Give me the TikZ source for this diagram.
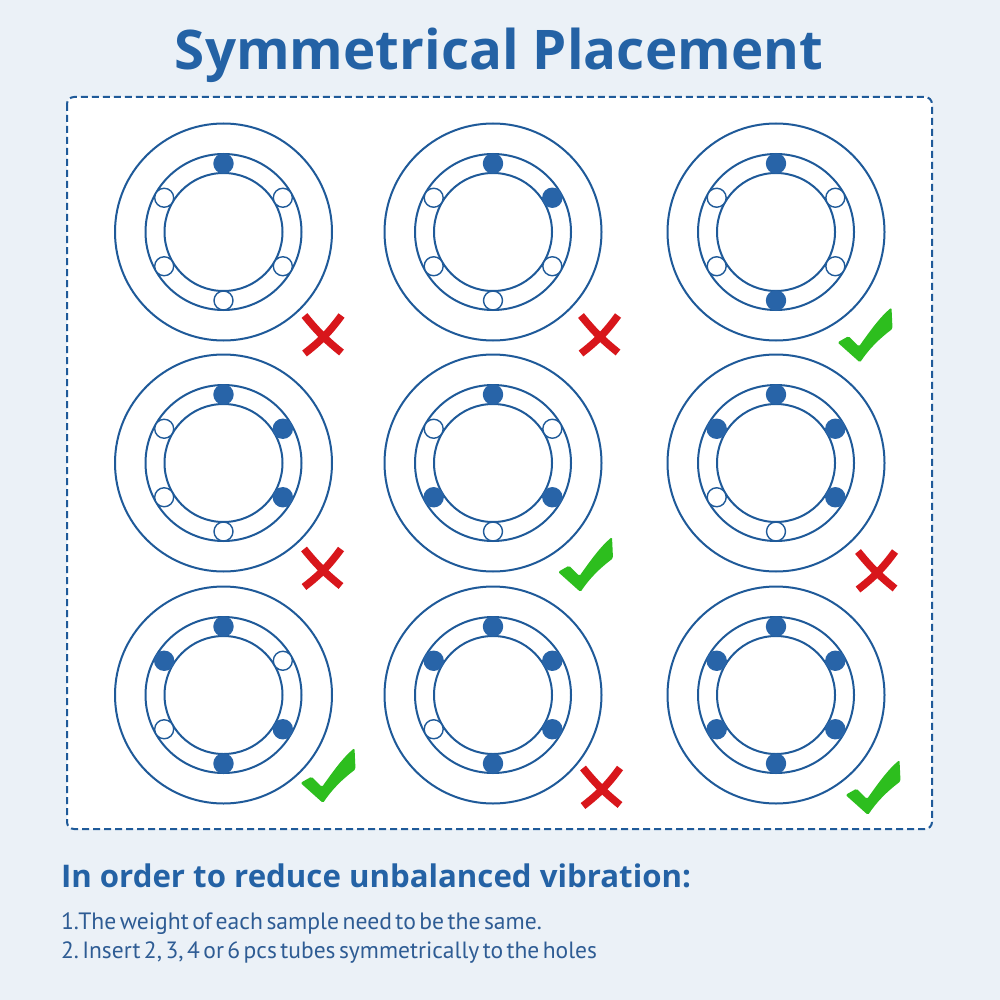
\documentclass[tikz,border=0pt]{standalone}
\usepackage{fontspec}
\usepackage{graphicx}
\setmainfont{Open Sans}
\newfontfamily\bodyfont{PT Sans}[WordSpace=0.55]
\frenchspacing
\usetikzlibrary{calc}
\definecolor{ring}{HTML}{1F5A99}
\definecolor{hole}{HTML}{2864A8}
\definecolor{titleblue}{HTML}{2462A5}
\definecolor{bodyblue}{HTML}{2E5C94}
\definecolor{bg}{HTML}{EBF1F7}
\definecolor{xred}{HTML}{D8161B}
\definecolor{vgreen}{HTML}{2DBE1E}
\tikzset{
  ringline/.style={draw=ring, line width=2pt},
  fullhole/.style={circle, fill=hole, draw=hole, line width=1.4pt, minimum size=19pt, inner sep=0pt},
  emptyhole/.style={circle, fill=white, draw=ring, line width=1.4pt, minimum size=19pt, inner sep=0pt},
  crossmark/.style={draw=xred, line width=7.5pt, line cap=butt},
  checkmark/.style={fill=vgreen, rounded corners=1.5pt},
  panel/.style={draw=ring, line width=2pt, dash pattern=on 7pt off 4pt, rounded corners=7pt, fill=white},
  textblock/.style={inner sep=0pt, outer sep=0pt},
}
% #1 name, #2 x, #3 y, #4 list of angle/style
\newcommand\rotorpic[4]{%
  \coordinate (#1) at (#2,#3);
  \draw[ringline] (#1) circle[radius=108.5];
  \draw[ringline] (#1) circle[radius=78];
  \draw[ringline] (#1) circle[radius=59];
  \foreach \a/\s in {#4} {
    \node[\s] (#1-\a) at ($(#1)+({-\a}:68.5)$) {};
  }
}
\newcommand\crossat[3]{%
  \coordinate (#1) at (#2,#3);
  \draw[crossmark] ($(#1)+(-18,-18)$) to[bend right=6] ($(#1)+(19,19)$);
  \draw[crossmark] ($(#1)+(19,-18)$) to[bend left=8] ($(#1)+(-18,20)$);
}
\newcommand\checkat[3]{%
  \coordinate (#1) at (#2,#3);
  \fill[checkmark] ($(#1)+(-27.5,7.4)$) -- ($(#1)+(-16.5,1.2)$) -- ($(#1)+(-6,11.5)$)
     .. controls ($(#1)+(5,-4)$) and ($(#1)+(15,-18)$) .. ($(#1)+(26.5,-27.5)$)
     -- ($(#1)+(27.5,-6.2)$)
     .. controls ($(#1)+(14,4)$) and ($(#1)+(4,14)$) .. ($(#1)+(-5,27.5)$) -- cycle;
}
\begin{document}
\begin{tikzpicture}[x=1pt,y=-1pt]
\useasboundingbox (0,0) rectangle (1000,1000);
\fill[bg] (0,0) rectangle (1000,1000);
% panel
\draw[panel] (67,97) rectangle (932,829);
% title
\node[textblock, anchor=base, text=titleblue, font=\bfseries\fontsize{57}{60}\selectfont] (title) at (499,70) {\resizebox{648pt}{!}{Symmetrical Placement}};
% rotors
\rotorpic{r11}{223.5}{232}{90/fullhole,30/emptyhole,-30/emptyhole,-90/emptyhole,-150/emptyhole,150/emptyhole}
\rotorpic{r12}{493}{232}{90/fullhole,30/fullhole,-30/emptyhole,-90/emptyhole,-150/emptyhole,150/emptyhole}
\rotorpic{r13}{776}{232}{90/fullhole,30/emptyhole,-30/emptyhole,-90/fullhole,-150/emptyhole,150/emptyhole}
\rotorpic{r21}{223.5}{463}{90/fullhole,30/fullhole,-30/fullhole,-90/emptyhole,-150/emptyhole,150/emptyhole}
\rotorpic{r22}{493}{463}{90/fullhole,30/emptyhole,-30/fullhole,-90/emptyhole,-150/fullhole,150/emptyhole}
\rotorpic{r23}{776}{463}{90/fullhole,30/fullhole,-30/fullhole,-90/emptyhole,-150/emptyhole,150/fullhole}
\rotorpic{r31}{223.5}{695}{90/fullhole,30/emptyhole,-30/fullhole,-90/fullhole,-150/emptyhole,150/fullhole}
\rotorpic{r32}{493}{695}{90/fullhole,30/fullhole,-30/fullhole,-90/fullhole,-150/emptyhole,150/fullhole}
\rotorpic{r33}{776}{695}{90/fullhole,30/fullhole,-30/fullhole,-90/fullhole,-150/fullhole,150/fullhole}
% marks
\crossat{m11}{322.5}{333.5}
\crossat{m12}{599}{333.5}
\checkat{m13}{865}{335}
\crossat{m21}{322}{567}
\checkat{m22}{585.5}{564.5}
\crossat{m23}{876}{569.5}
\checkat{m31}{328}{775.5}
\crossat{m32}{601}{786}
\checkat{m33}{873}{787.5}
% text
\node[textblock, anchor=base west, text=titleblue, font=\bfseries\fontsize{34}{36}\selectfont] (sub) at (61,887) {\resizebox{630pt}{!}{In order to reduce unbalanced vibration:}};
\node[textblock, anchor=base west, text=bodyblue, font=\bodyfont\fontsize{20}{22}\selectfont] (l1) at (61,929) {\resizebox{481pt}{!}{1.The weight of each sample need to be the same.}};
\node[textblock, anchor=base west, text=bodyblue, font=\bodyfont\fontsize{20}{22}\selectfont] (l2) at (61,958) {\resizebox{536pt}{!}{2. Insert 2, 3, 4 or 6 pcs tubes symmetrically to the holes}};
\end{tikzpicture}
\end{document}
